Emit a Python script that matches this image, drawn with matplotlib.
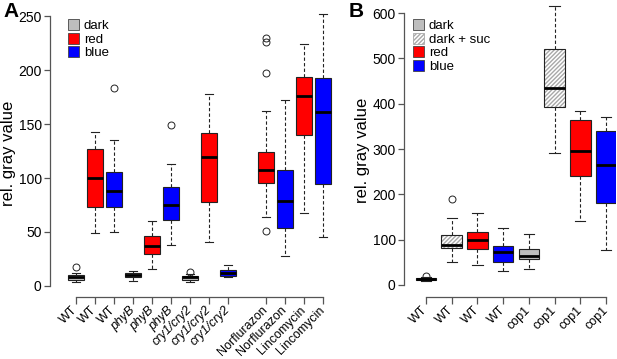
import numpy as np
import matplotlib
matplotlib.use("Agg")
import matplotlib.pyplot as plt
from matplotlib.patches import Patch, PathPatch

plt.rcParams["font.family"] = ["Liberation Sans", "DejaVu Sans"]
plt.rcParams["hatch.linewidth"] = 1.0

GREY, RED, BLUE = "#BEBEBE", "#FF0000", "#0000FF"
HATCH_COL = "#A8A8A8"
AXIS_COL = "#555555"

# ---- panel A data ----
a_pos = [1, 2, 3, 4, 5, 6, 7, 8, 9, 11, 12, 13, 14]
a_labels = ["WT", "WT", "WT", "phyB", "phyB", "phyB", "cry1/cry2", "cry1/cry2",
            "cry1/cry2", "Norflurazon", "Norflurazon", "Lincomycin", "Lincomycin"]
a_italic = [False, False, False, True, True, True, True, True, True,
            False, False, False, False]
a_colors = [GREY, RED, BLUE, GREY, RED, BLUE, GREY, RED, BLUE, RED, BLUE, RED, BLUE]
a_whislo = [4, 49, 50, 5, 16, 38, 4, 41, 8, 64, 28, 68, 45]
a_q1 = [6, 73, 73, 8, 30, 61, 6, 78, 9, 95, 54, 140, 94]
a_med = [8, 100, 88, 10, 37, 75, 8, 119, 12, 107, 79, 176, 161]
a_q3 = [10, 127, 106, 12, 46, 92, 9, 142, 15, 124, 107, 194, 193]
a_whishi = [12, 143, 135, 14, 60, 113, 11, 178, 19, 162, 172, 224, 252]
a_fliers = [[18], [], [183], [], [], [149], [13], [], [], [51, 197, 226, 230], [], [], []]

# ---- panel B data ----
b_pos = [1, 2, 3, 4, 5, 6, 7, 8]
b_labels = ["WT", "WT", "WT", "WT", "cop1", "cop1", "cop1", "cop1"]
b_colors = [GREY, "white", RED, BLUE, GREY, "white", RED, BLUE]
b_hatched = [False, True, False, False, False, True, False, False]
b_whislo = [8, 51, 44, 31, 36, 292, 141, 77]
b_q1 = [10, 82, 79, 51, 57, 392, 241, 182]
b_med = [13, 88, 99, 73, 65, 434, 296, 265]
b_q3 = [15, 110, 117, 86, 80, 521, 363, 339]
b_whishi = [17, 148, 159, 126, 113, 615, 385, 371]
b_fliers = [[20], [190], [], [], [], [], [], []]

W, H = 617, 359
fig = plt.figure(figsize=(W / 100, H / 100), dpi=100)


def px_axes(left, right, top, bottom):
    return fig.add_axes([left / W, (H - bottom) / H, (right - left) / W, (bottom - top) / H])


def draw_boxes(ax, pos, whislo, q1, med, q3, whishi, fliers, colors):
    stats = [dict(whislo=lo, q1=a, med=m, q3=b, whishi=hi, fliers=f)
             for lo, a, m, b, hi, f in zip(whislo, q1, med, q3, whishi, fliers)]
    res = ax.bxp(stats, positions=pos, widths=0.8, capwidths=0.4, patch_artist=True,
                 boxprops=dict(linewidth=0.8, edgecolor="#222222"),
                 whiskerprops=dict(linestyle=(0, (3, 2)), linewidth=0.8, color="#222222"),
                 capprops=dict(linewidth=0.8, color="#222222"),
                 medianprops=dict(linewidth=2.0, color="black", solid_capstyle="butt"),
                 flierprops=dict(marker="o", markersize=5, markerfacecolor="none",
                                 markeredgecolor="#222222", markeredgewidth=0.7))
    for box, c in zip(res["boxes"], colors):
        box.set_facecolor(c)
    return res


def style_axes(ax, yticks, xbounds):
    for s in ["top", "right"]:
        ax.spines[s].set_visible(False)
    ax.spines["left"].set_bounds(yticks[0], yticks[-1])
    ax.spines["bottom"].set_bounds(*xbounds)
    for s in ["left", "bottom"]:
        ax.spines[s].set_linewidth(0.9)
        ax.spines[s].set_color(AXIS_COL)
    ax.set_yticks(yticks)
    ax.tick_params(axis="y", length=4, width=0.9, pad=2, labelsize=10, color=AXIS_COL)
    ax.tick_params(axis="x", length=5, width=0.9, pad=3, labelsize=9, color=AXIS_COL)
    ax.set_ylabel("rel. gray value", fontsize=12, labelpad=2)


# ---- panel A ----
axA = px_axes(50, 335, 10, 297)
draw_boxes(axA, a_pos, a_whislo, a_q1, a_med, a_q3, a_whishi, a_fliers, a_colors)
axA.set_xlim(1 - 26 / 19, 14 + 12 / 19)
axA.set_ylim(-10.2, 255.6)
style_axes(axA, [0, 50, 100, 150, 200, 250], (1, 14))
axA.set_xticks(a_pos)
axA.set_xticklabels(a_labels, rotation=45, ha="right", va="center", rotation_mode="anchor")
for t, it in zip(axA.get_xticklabels(), a_italic):
    if it:
        t.set_style("italic")
axA.legend(handles=[Patch(facecolor=c, edgecolor="#444444", linewidth=0.6, label=l)
                    for c, l in zip([GREY, RED, BLUE], ["dark", "red", "blue"])],
           loc="upper left", bbox_to_anchor=(68 / W, (H - 19) / H), bbox_transform=fig.transFigure,
           frameon=False, fontsize=9.5, handlelength=0.8, handleheight=0.9,
           handletextpad=0.4, labelspacing=0.05, borderpad=0, borderaxespad=0)

# ---- panel B ----
axB = px_axes(404, 616, 4, 297)
res = draw_boxes(axB, b_pos, b_whislo, b_q1, b_med, b_q3, b_whishi, b_fliers, b_colors)
for box, h in zip(res["boxes"], b_hatched):
    if h:
        box.set_hatch("////////")
        box.set_edgecolor(HATCH_COL)
        box.set_linewidth(0)
        axB.add_patch(PathPatch(box.get_path(), fill=False, edgecolor="#222222",
                                linewidth=0.8, zorder=box.get_zorder()))
axB.set_xlim(1 - 22 / 25.7, 8 + 10 / 25.7)
axB.set_ylim(-26.5, 620)
style_axes(axB, [0, 100, 200, 300, 400, 500, 600], (1, 8))
axB.set_xticks(b_pos)
axB.set_xticklabels(b_labels, rotation=45, ha="right", va="center", rotation_mode="anchor")
leg_h = [Patch(facecolor=GREY, edgecolor="#444444", linewidth=0.6, label="dark"),
         Patch(facecolor="white", edgecolor=HATCH_COL, hatch="////////", linewidth=0.6, label="dark + suc"),
         Patch(facecolor=RED, edgecolor="#444444", linewidth=0.6, label="red"),
         Patch(facecolor=BLUE, edgecolor="#444444", linewidth=0.6, label="blue")]
axB.legend(handles=leg_h, loc="upper left", bbox_to_anchor=(413 / W, (H - 19) / H),
           bbox_transform=fig.transFigure, frameon=False, fontsize=9.5, handlelength=0.8,
           handleheight=0.9, handletextpad=0.4, labelspacing=0.05, borderpad=0, borderaxespad=0)

fig.text(3 / W, 1 - 2 / H, "A", fontsize=15, fontweight="bold", ha="left", va="top")
fig.text(349 / W, 1 - 2 / H, "B", fontsize=15, fontweight="bold", ha="left", va="top")

fig.savefig("out.png", dpi=100)
